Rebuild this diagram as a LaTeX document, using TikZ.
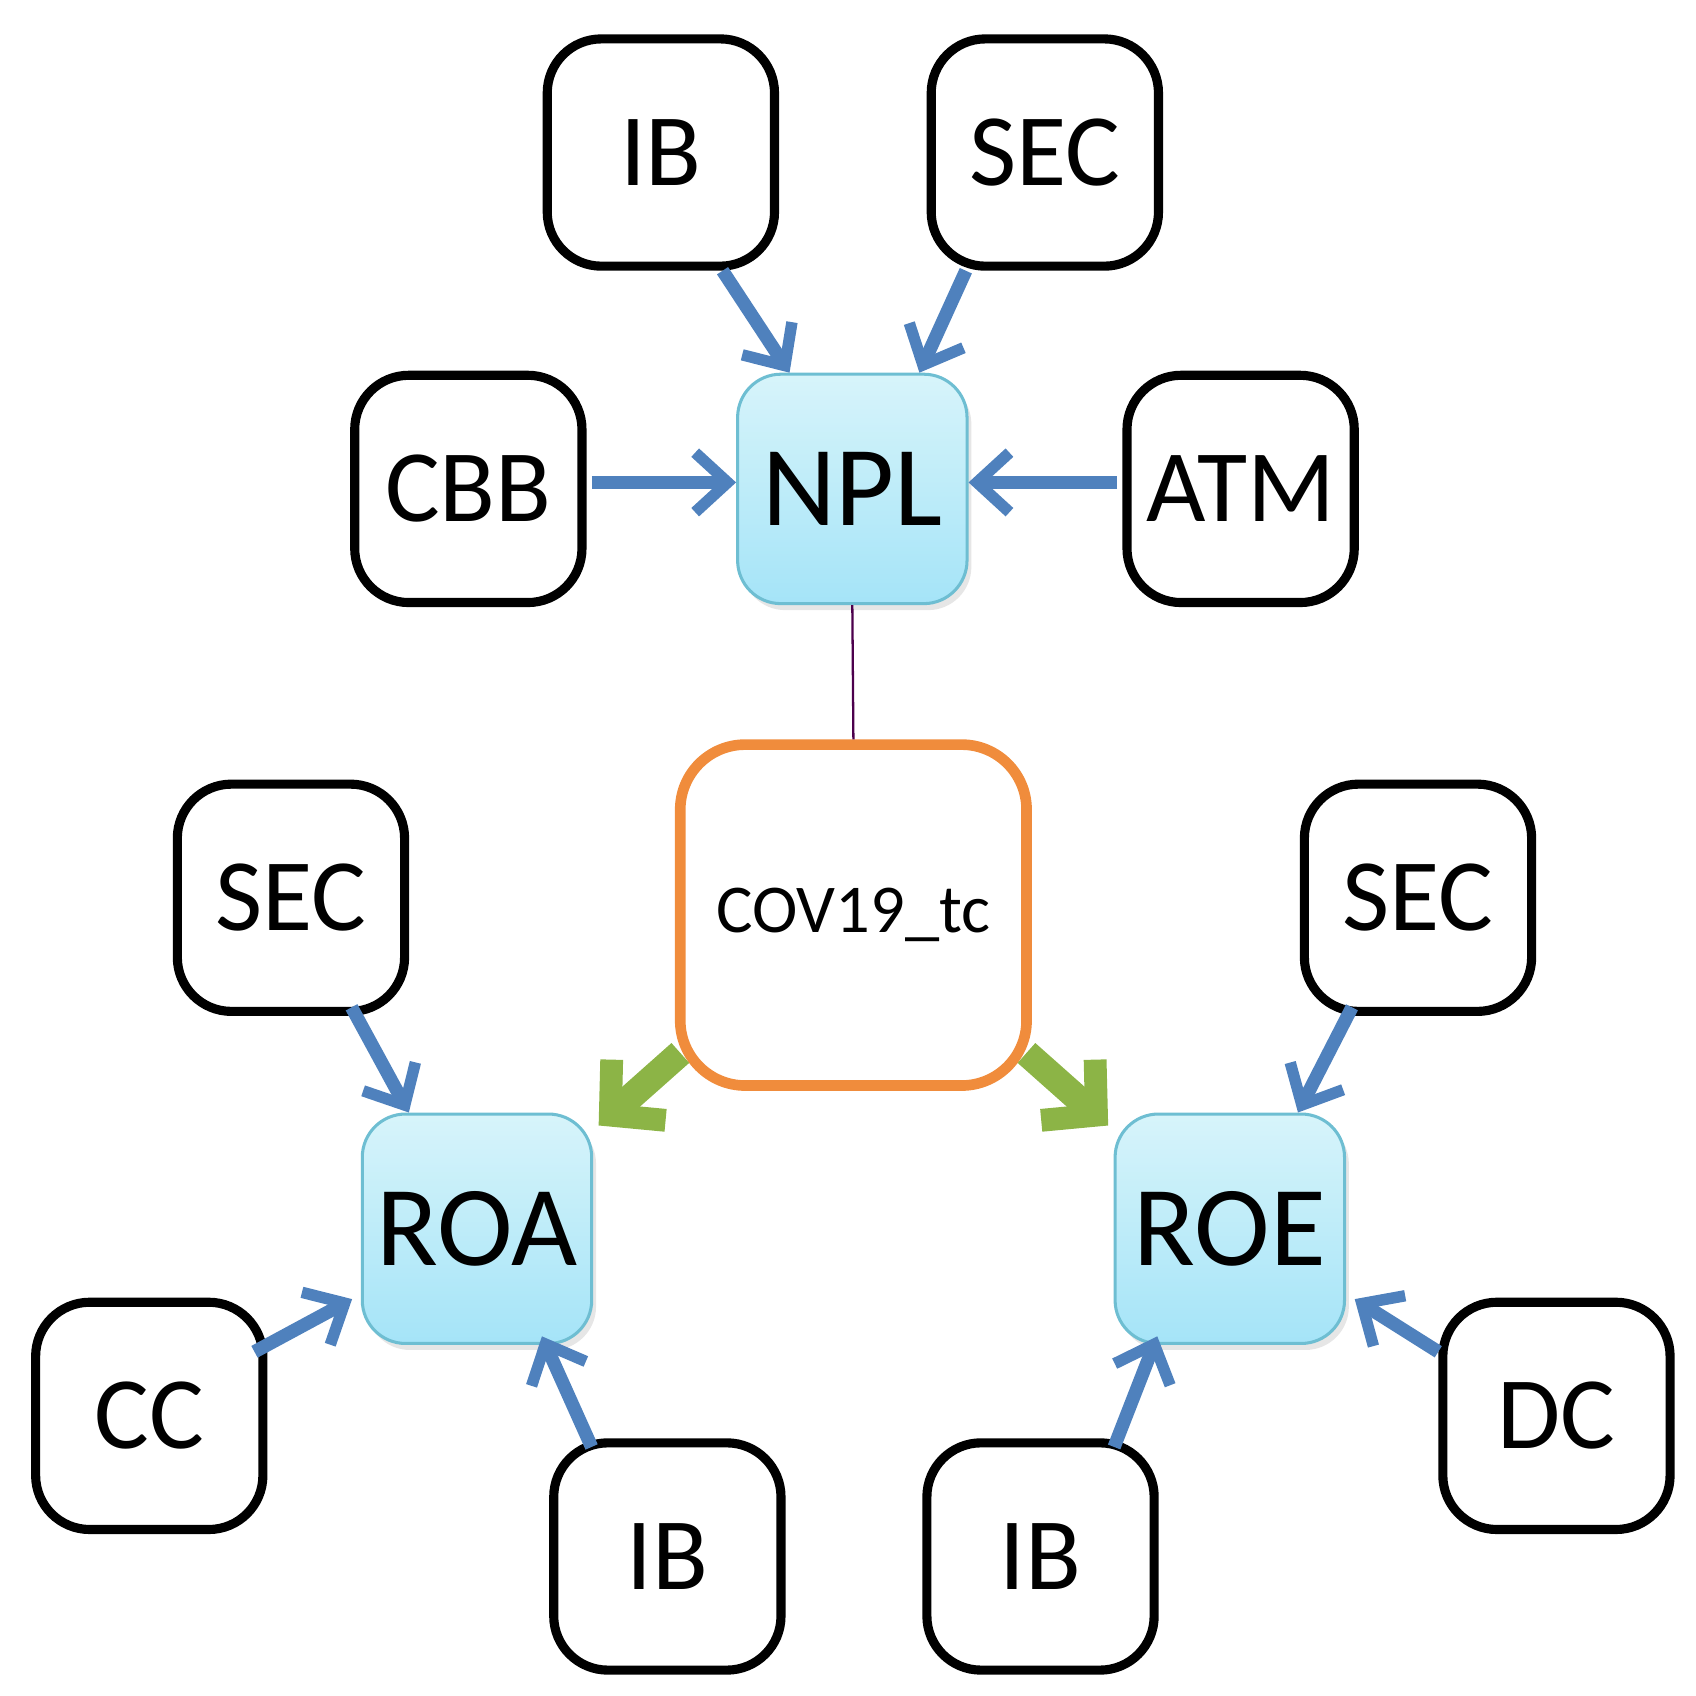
\documentclass[tikz,border=0pt]{standalone}
\usepackage{fontspec}
\setmainfont{Carlito}
\usetikzlibrary{arrows.meta,shadows}
\definecolor{ablue}{RGB}{79,129,189}
\definecolor{agreen}{RGB}{140,180,70}
\definecolor{aorange}{RGB}{240,140,60}
\definecolor{bborder}{RGB}{110,190,210}
\definecolor{htop}{RGB}{215,244,250}
\definecolor{hbot}{RGB}{165,228,248}
\begin{document}
\begin{tikzpicture}[x=0.01cm,y=-0.01cm,
 box/.style={draw=black,line width=2.4pt,rounded corners=0.5cm,minimum width=2.1cm,minimum height=2.1cm,font=\fontsize{27}{30}\selectfont,inner sep=0pt},
 hub/.style={draw=bborder,line width=0.8pt,rounded corners=0.4cm,minimum width=2.12cm,minimum height=2.12cm,top color=htop,bottom color=hbot,font=\fontsize{30}{34}\selectfont,inner sep=0pt,drop shadow={opacity=0.2,shadow xshift=0.04cm,shadow yshift=-0.06cm}},
 arr/.style={draw=ablue,line width=3.5pt,-{Straight Barb[length=0.3cm,width=0.55cm,line width=3pt]}},
 garr/.style={draw=agreen,line width=7pt,-{Straight Barb[length=0.35cm,width=0.75cm,line width=6pt]}}]
\useasboundingbox (0,0) rectangle (1568,1568);
\node[box] (ib1) at (611,141) {IB};
\node[box] (sec1) at (966,141) {SEC};
\node[box] (cbb) at (433,452) {CBB};
\node[hub] (npl) at (788,452) {NPL};
\node[box] (atm) at (1147,452) {ATM};
\node[draw=aorange,line width=2.8pt,rounded corners=0.6cm,minimum width=3.2cm,minimum height=3.15cm,font=\fontsize{18}{20}\selectfont] (cov) at (789,846) {COV19\_tc};
\node[box] (sec2) at (269,830) {SEC};
\node[box] (sec3) at (1311,830) {SEC};
\node[hub] (roa) at (441,1136) {ROA};
\node[hub] (roe) at (1137,1136) {ROE};
\node[box] (cc) at (138,1309) {CC};
\node[box] (ib2) at (617,1439) {IB};
\node[box] (ib3) at (962,1439) {IB};
\node[box] (dc) at (1439,1309) {DC};
\draw[violet!60!black,line width=0.6pt] (npl.south) -- (cov.north);
\draw[arr] ([xshift=0.57cm]ib1.south) -- ([xshift=-0.58cm]npl.north);
\draw[arr] ([xshift=-0.73cm]sec1.south) -- ([xshift=0.62cm]npl.north);
\draw[arr] ([xshift=0.05cm,yshift=0.06cm]cbb.east) -- ([yshift=0.06cm]npl.west);
\draw[arr] ([xshift=-0.05cm,yshift=0.06cm]atm.west) -- ([yshift=0.06cm]npl.east);
\draw[arr] ([xshift=0.56cm,yshift=0.08cm]sec2.south) -- ([xshift=-0.63cm]roa.north);
\draw[arr] ([xshift=-0.61cm,yshift=0.08cm]sec3.south) -- ([xshift=0.63cm]roe.north);
\draw[arr] ([xshift=-0.12cm,yshift=-0.5cm]cc.north east) -- ([xshift=-0.08cm,yshift=-0.65cm]roa.west);
\draw[arr] ([xshift=-0.7cm,yshift=-0.08cm]ib2.north) -- ([xshift=0.6cm,yshift=0.08cm]roa.south);
\draw[arr] ([xshift=0.68cm,yshift=-0.08cm]ib3.north) -- ([xshift=-0.67cm,yshift=0.08cm]roe.south);
\draw[arr] ([xshift=0.0cm,yshift=-0.5cm]dc.north west) -- ([xshift=0.08cm,yshift=-0.65cm]roe.east);
\draw[garr] ([xshift=0.05cm,yshift=0.35cm]cov.south west) -- ([xshift=0.05cm,yshift=-0.12cm]roa.north east);
\draw[garr] ([xshift=-0.05cm,yshift=0.35cm]cov.south east) -- ([xshift=-0.05cm,yshift=-0.12cm]roe.north west);
\end{tikzpicture}
\end{document}
